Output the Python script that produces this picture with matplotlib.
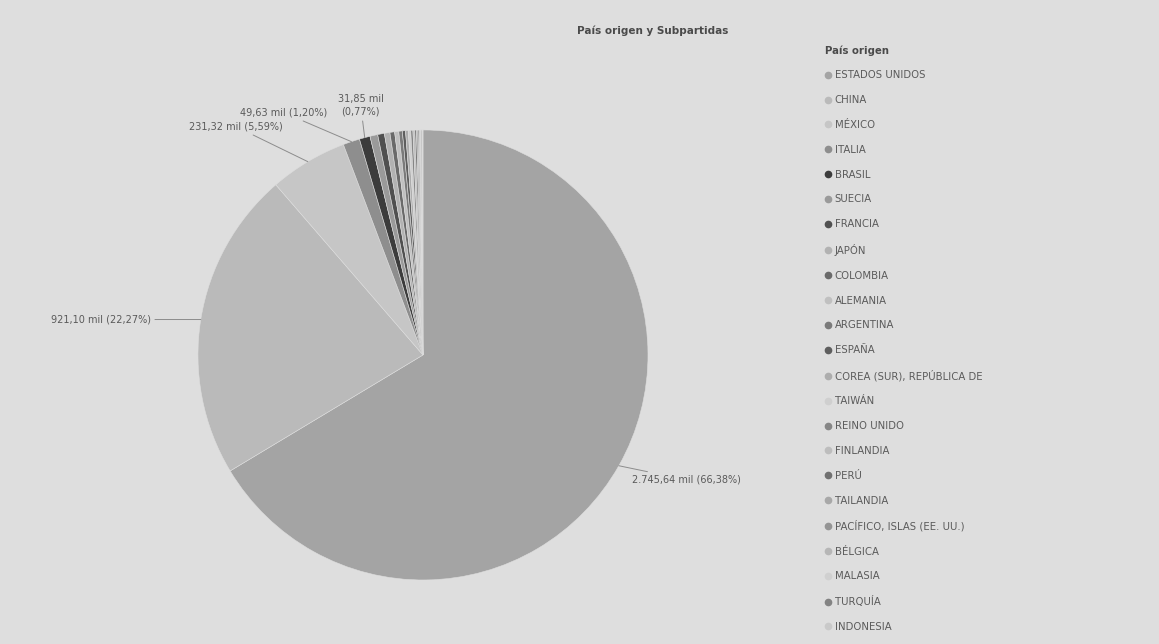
import numpy as np
import matplotlib.pyplot as plt
from matplotlib.lines import Line2D

# Importaciones por país de origen (miles)
paises = ["ESTADOS UNIDOS", "CHINA", "MÉXICO", "ITALIA", "BRASIL", "SUECIA",
          "FRANCIA", "JAPÓN", "COLOMBIA", "ALEMANIA", "ARGENTINA", "ESPAÑA",
          "COREA (SUR), REPÚBLICA DE", "TAIWÁN", "REINO UNIDO", "FINLANDIA",
          "PERÚ", "TAILANDIA", "PACÍFICO, ISLAS (EE. UU.)", "BÉLGICA",
          "MALASIA", "TURQUÍA", "INDONESIA"]
valores = [2745.64, 921.10, 231.32, 49.63, 31.85, 23.0, 19.8, 16.5, 13.9,
           12.2, 10.6, 9.3, 8.1, 7.2, 6.4, 5.6, 4.9, 4.3, 3.8, 3.3, 2.9,
           2.5, 2.2]
colores = ["#a4a4a4", "#bababa", "#c6c6c6", "#8e8e8e", "#3c3c3c", "#9a9a9a",
           "#505050", "#b2b2b2", "#6a6a6a", "#c0c0c0", "#7a7a7a", "#5e5e5e",
           "#adadad", "#cfcfcf", "#868686", "#bdbdbd", "#707070", "#a8a8a8",
           "#949494", "#b6b6b6", "#d0d0d0", "#838383", "#c9c9c9"]

# cuántas porciones llevan etiqueta y cómo se desplaza cada una (px)
n_etiquetas = 5
desplaz = [(13, -14, "left"), (-50, 0, "right"), (-25, 35, "right"),
           (-24, 29, "right"), (-4, 32, "center")]

fondo = "#dedede"


def fmt_es(x, dec=2):
    s = f"{x:,.{dec}f}"
    return s.replace(",", "X").replace(".", ",").replace("X", ".")


fig = plt.figure(figsize=(11.59, 6.44), dpi=100, facecolor=fondo)
ax = fig.add_axes([0.1708, 0.0994, 0.3883, 0.6988])
ax.set_facecolor(fondo)

wedges, _ = ax.pie(valores, colors=colores, startangle=90, counterclock=False,
                   radius=1.0, wedgeprops=dict(edgecolor=fondo, linewidth=0.4))
ax.set_xlim(-1, 1)
ax.set_ylim(-1, 1)
ax.set_aspect("equal")
ax.axis("off")

total = sum(valores)
for i in range(n_etiquetas):
    w = wedges[i]
    ang = np.deg2rad((w.theta1 + w.theta2) / 2)
    xy = (np.cos(ang), np.sin(ang))
    pct = valores[i] / total * 100
    sep = "\n" if desplaz[i][2] == "center" else " "
    texto = f"{fmt_es(valores[i])} mil{sep}({fmt_es(pct)}%)"
    ax.annotate(texto, xy=xy, xytext=desplaz[i][:2], textcoords="offset pixels",
                ha=desplaz[i][2], va="center", fontsize=7, color="#5a5a5a",
                linespacing=1.3, annotation_clip=False,
                arrowprops=dict(arrowstyle="-", color="#8c8c8c", lw=0.7,
                                shrinkA=1, shrinkB=0))

fig.text(0.563, 0.953, "País origen y Subpartidas", ha="center", va="center",
         fontsize=7.5, fontweight="bold", color="#4a4a4a")

handles = [Line2D([], [], marker="o", linestyle="none", markersize=4.5,
                  markerfacecolor=c, markeredgecolor=c) for c in colores]
leg = fig.legend(handles, paises, loc="upper left",
                 bbox_to_anchor=(0.712, 0.93), frameon=False, fontsize=7.3,
                 title="País origen", title_fontsize=7.3, alignment="left",
                 labelspacing=1.46, handlelength=0.6, handletextpad=0.35,
                 borderaxespad=0, borderpad=0)
leg.get_title().set_fontweight("bold")
leg.get_title().set_color("#4a4a4a")
for t in leg.get_texts():
    t.set_color("#5a5a5a")

fig.savefig("out.png", dpi=100, facecolor=fondo)
